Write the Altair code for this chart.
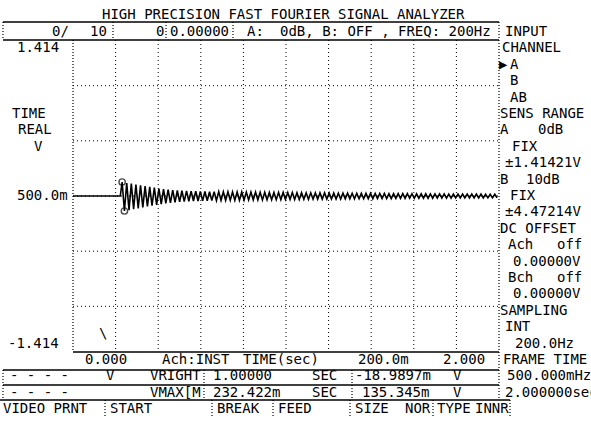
import altair as alt
import pandas as pd

# ---------------- data ----------------
time_domain = [0.0, 2.0]                      # TIME(sec) 0.000 .. 2.000
volt_domain = [-1.414, 1.414]                 # V  -1.414 .. 1.414
grid_times = [0.2, 0.4, 0.6, 0.8, 1.0, 1.2, 1.4, 1.6, 1.8]
grid_volts = [-1.0, -0.5, 0.0, 0.5, 1.0]

flat_times = [0.0, 0.222]
flat_volts = [0.0, 0.0]

osc_start = 0.2306          # first peak of the ringing (s)
half_period = 0.0108        # time between successive peaks / troughs (s)
osc_volts = [
    0.127, -0.136, 0.118, -0.128, 0.112, -0.120, 0.104, -0.112, 0.097, -0.103,
    0.090, -0.095, 0.082, -0.088, 0.075, -0.080, 0.068, -0.073, 0.063, -0.067,
    0.058, -0.062, 0.054, -0.058, 0.051, -0.054, 0.048, -0.051, 0.046, -0.048,
    0.044, -0.047, 0.043, -0.045, 0.042, -0.044, 0.041, -0.043, 0.040, -0.042,
    0.040, -0.041, 0.039, -0.040, 0.038, -0.040, 0.038, -0.039, 0.037, -0.038,
    0.037, -0.038, 0.036, -0.037, 0.036, -0.036, 0.035, -0.036, 0.035, -0.035,
    0.034, -0.035, 0.034, -0.034, 0.033, -0.034, 0.033, -0.033, 0.032, -0.033,
    0.032, -0.032, 0.031, -0.032, 0.031, -0.031, 0.030, -0.031, 0.030, -0.030,
    0.029, -0.030, 0.029, -0.029, 0.028, -0.029, 0.028, -0.028, 0.028, -0.028,
    0.027, -0.028, 0.027, -0.027, 0.026, -0.027, 0.026, -0.026, 0.026, -0.026,
    0.025, -0.026, 0.025, -0.025, 0.024, -0.025, 0.024, -0.024, 0.024, -0.024,
    0.023, -0.024, 0.023, -0.023, 0.023, -0.023, 0.022, -0.023, 0.022, -0.022,
    0.022, -0.022, 0.021, -0.022, 0.021, -0.021, 0.021, -0.021, 0.020, -0.021,
    0.020, -0.020, 0.020, -0.020, 0.019, -0.020, 0.019, -0.019, 0.019, -0.019,
    0.019, -0.019, 0.018, -0.019, 0.018, -0.018, 0.018, -0.018, 0.018, -0.018,
    0.017, -0.018, 0.017, -0.017, 0.017, -0.017, 0.017, -0.017, 0.016, -0.017,
    0.016, -0.017, 0.016, -0.016,
]
marker_times = [0.2306, 0.2414]
marker_volts = [0.127, -0.136]

# ---------------- screen layout (pixels) ----------------
PX0, PX1 = 73, 499          # plot left / right
PY0, PY1 = 40, 352          # plot top / bottom
FONT = "DejaVu Sans Mono"
FS = 14

def row(r):
    return 32 + 16.4 * r

screen_text = [
    ("HIGH PRECISION FAST FOURIER SIGNAL ANALYZER", 102, 15),
    ("0/", 52, row(0)), ("10", 90, row(0)), ("0", 156, row(0)),
    ("0.00000", 170, row(0)), ("A:", 247, row(0)),
    ("0dB, B: OFF , FREQ: 200Hz", 280, row(0)),
    ("1.414", 17, row(1)), ("TIME", 12, row(5)), ("REAL", 18, row(6)),
    ("V", 34, row(7)), ("500.0m", 17, row(10)), ("-1.414", 8, row(19)),
    ("0.000", 85, row(20)), ("Ach:INST", 162, row(20)), ("TIME(sec)", 243, row(20)),
    ("200.0m", 358, row(20)), ("2.000", 443, row(20)),
    ("- - - -", 10, row(21)), ("V", 106, row(21)), ("VRIGHT", 150, row(21)),
    ("1.00000", 213, row(21)), ("SEC", 312, row(21)), ("-18.9897m", 355, row(21)),
    ("V", 453, row(21)),
    ("- - - -", 10, row(22)), ("VMAX[M", 150, row(22)), ("232.422m", 213, row(22)),
    ("SEC", 312, row(22)), ("135.345m", 362, row(22)), ("V", 453, row(22)),
    ("VIDEO PRNT", 3, row(23)), ("START", 110, row(23)), ("BREAK", 217, row(23)),
    ("FEED", 278, row(23)), ("SIZE", 355, row(23)), ("NOR", 405, row(23)),
    ("TYPE", 437, row(23)), ("INNR", 475, row(23)),
    ("INPUT", 505, row(0)), ("CHANNEL", 502, row(1)), ("\u25b6", 499, row(2)),
    ("A", 510, row(2)), ("B", 510, row(3)), ("AB", 510, row(4)),
    ("SENS RANGE", 500, row(5)), ("A", 500, row(6)), ("0dB", 538, row(6)),
    ("FIX", 512, row(7)), ("\u00b11.41421V", 505, row(8)),
    ("B", 500, row(9)), ("10dB", 526, row(9)), ("FIX", 510, row(10)),
    ("\u00b14.47214V", 505, row(11)), ("DC OFFSET", 500, row(12)),
    ("Ach", 508, row(13)), ("off", 557, row(13)), ("0.00000V", 513, row(14)),
    ("Bch", 508, row(15)), ("off", 557, row(15)), ("0.00000V", 513, row(16)),
    ("SAMPLING", 500, row(17)), ("INT", 505, row(18)), ("200.0Hz", 515, row(19)),
    ("FRAME TIME", 503, row(20)), ("500.000mHz", 507, row(21)),
    ("2.000000sec", 505, row(22)),
    ("\\", 99, 334),
]

solid_lines = [  # x, x2, y, y2
    (3, PX1, 22, 22), (3, PX1, PY0, PY0), (PX0, PX1, PY1, PY1),
    (3, PX1, 370, 370), (3, PX1, 385, 385), (0, 510, 400, 400),
]
dotted_lines = [
    (3, 3, 22, 40), (113, 113, 22, 40), (166, 166, 22, 40), (233, 233, 22, 40),
    (PX1, PX1, 22, 400), (PX0, PX0, PY0, PY1),
    (3, 3, 370, 400), (204, 204, 370, 400), (352, 352, 370, 400),
    (105, 105, 400, 416), (212, 212, 400, 416), (273, 273, 400, 416),
    (350, 350, 400, 416), (433, 433, 400, 416), (510, 510, 400, 416),
]

# ---------------- tables ----------------
wave = pd.DataFrame({
    "t": flat_times + [osc_start + k * half_period for k in range(len(osc_volts))],
    "v": flat_volts + osc_volts,
})
markers = pd.DataFrame({"t": marker_times, "v": marker_volts})
vgrid = pd.DataFrame({"t": grid_times})
hgrid = pd.DataFrame({"v": grid_volts})
texts = pd.DataFrame(screen_text, columns=["text", "px", "py"])
solid = pd.DataFrame(solid_lines, columns=["x", "x2", "y", "y2"])
dotted = pd.DataFrame(dotted_lines, columns=["x", "x2", "y", "y2"])

xs = alt.Scale(domain=time_domain, range=[PX0, PX1], nice=False, zero=False)
ys = alt.Scale(domain=volt_domain, range=[PY1, PY0], nice=False, zero=False)

vgrid_l = alt.Chart(vgrid).mark_rule(color="black", strokeWidth=1, strokeDash=[1, 3]).encode(
    x=alt.X("t:Q", scale=xs, axis=None), y=alt.value(PY0), y2=alt.value(PY1))
hgrid_l = alt.Chart(hgrid).mark_rule(color="black", strokeWidth=1, strokeDash=[1, 3]).encode(
    y=alt.Y("v:Q", scale=ys, axis=None), x=alt.value(PX0), x2=alt.value(PX1))
wave_l = alt.Chart(wave).mark_line(color="black", strokeWidth=1.6).encode(
    x=alt.X("t:Q", scale=xs, axis=None), y=alt.Y("v:Q", scale=ys, axis=None))
mark_l = alt.Chart(markers).mark_point(shape="circle", filled=False, size=40,
                                       color="black", strokeWidth=1.4).encode(
    x=alt.X("t:Q", scale=xs, axis=None), y=alt.Y("v:Q", scale=ys, axis=None))
solid_l = alt.Chart(solid).mark_rule(color="black", strokeWidth=1.5).encode(
    x=alt.X("x:Q", scale=None, axis=None), x2="x2:Q",
    y=alt.Y("y:Q", scale=None, axis=None), y2="y2:Q")
dotted_l = alt.Chart(dotted).mark_rule(color="black", strokeWidth=1.2, strokeDash=[1, 2]).encode(
    x=alt.X("x:Q", scale=None, axis=None), x2="x2:Q",
    y=alt.Y("y:Q", scale=None, axis=None), y2="y2:Q")
text_l = alt.Chart(texts).mark_text(align="left", baseline="middle", font=FONT,
                                    fontSize=FS, color="black").encode(
    x=alt.X("px:Q", scale=None, axis=None), y=alt.Y("py:Q", scale=None, axis=None),
    text="text:N")

chart = alt.layer(vgrid_l, hgrid_l, solid_l, dotted_l, wave_l, mark_l, text_l).resolve_scale(
    x="independent", y="independent"
).properties(
    width=591, height=421, padding=0,
    autosize=alt.AutoSizeParams(type="none"), background="white",
).configure_view(stroke=None)

chart.save("out.html", embed_options={"renderer": "svg", "actions": False})
